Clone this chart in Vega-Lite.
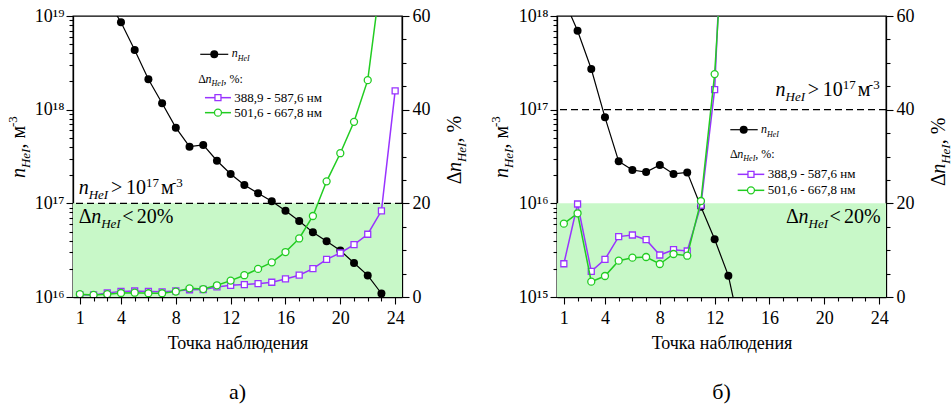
{
  "$schema": "https://vega.github.io/schema/vega-lite/v6.json",
  "padding": {"left": 6, "top": 6, "right": 0, "bottom": 0},
  "spacing": 155,
  "bounds": "flush",
  "datasets": {
    "pa": [
      {"x": 1, "n": null, "p388": 0.5, "p501": 0.6},
      {"x": 2, "n": null, "p388": 0.45, "p501": 0.45},
      {"x": 3, "n": 1.5e19, "p388": 0.85, "p501": 0.6},
      {"x": 4, "n": 8.57e18, "p388": 1.2, "p501": 0.85},
      {"x": 5, "n": 4.34e18, "p388": 1.28, "p501": 0.92},
      {"x": 6, "n": 2.11e18, "p388": 1.2, "p501": 0.8},
      {"x": 7, "n": 1.17e18, "p388": 1.1, "p501": 0.8},
      {"x": 8, "n": 6.43e17, "p388": 1.28, "p501": 1.15},
      {"x": 9, "n": 4.03e17, "p388": 1.55, "p501": 1.85},
      {"x": 10, "n": 4.2e17, "p388": 1.6, "p501": 1.7},
      {"x": 11, "n": 2.85e17, "p388": 2.15, "p501": 2.5},
      {"x": 12, "n": 2.06e17, "p388": 2.5, "p501": 3.5},
      {"x": 13, "n": 1.57e17, "p388": 2.65, "p501": 4.65},
      {"x": 14, "n": 1.28e17, "p388": 2.85, "p501": 6.0},
      {"x": 15, "n": 1.05e17, "p388": 3.15, "p501": 7.4},
      {"x": 16, "n": 8.34e16, "p388": 3.85, "p501": 9.6},
      {"x": 17, "n": 6.47e16, "p388": 4.65, "p501": 12.5},
      {"x": 18, "n": 4.9e16, "p388": 6.05, "p501": 17.3},
      {"x": 19, "n": 3.93e16, "p388": 8.05, "p501": 24.7},
      {"x": 20, "n": 3.13e16, "p388": 9.4, "p501": 30.7},
      {"x": 21, "n": 2.31e16, "p388": 11.2, "p501": 37.4},
      {"x": 22, "n": 1.7e16, "p388": 13.4, "p501": 46.3},
      {"x": 23, "n": 1.09e16, "p388": 18.4, "p501": 69},
      {"x": 24, "n": null, "p388": 44.0, "p501": null}
    ],
    "pb": [
      {"x": 1, "n": 1.5e18, "p388": 7.1, "p501": 15.66},
      {"x": 2, "n": 6.97e17, "p388": 19.86, "p501": 17.87},
      {"x": 3, "n": 2.72e17, "p388": 5.48, "p501": 3.27},
      {"x": 4, "n": 8.28e16, "p388": 8.04, "p501": 4.48},
      {"x": 5, "n": 2.81e16, "p388": 12.9, "p501": 7.76},
      {"x": 6, "n": 2.27e16, "p388": 13.24, "p501": 8.4},
      {"x": 7, "n": 2.16e16, "p388": 12.24, "p501": 8.54},
      {"x": 8, "n": 2.57e16, "p388": 8.97, "p501": 7.05},
      {"x": 9, "n": 2.06e16, "p388": 10.1, "p501": 9.18},
      {"x": 10, "n": 2.14e16, "p388": 9.82, "p501": 8.82},
      {"x": 11, "n": 9.2e15, "p388": 19.6, "p501": 20.5},
      {"x": 12, "n": 4.13e15, "p388": 44.3, "p501": 47.6},
      {"x": 13, "n": 1.69e15, "p388": 110, "p501": 95},
      {"x": 14, "n": 3.6e14, "p388": null, "p501": null}
    ]
  },
  "hconcat": [
    {
      "width": 329,
      "height": 281,
      "title": {"text": "а)", "orient": "bottom", "offset": 30},
      "resolve": {"scale": {"y": "independent"}},
      "layer": [
        {
          "data": {"values": [{}]},
          "mark": {"type": "rect", "color": "#c8f8c8"},
          "encoding": {
            "x": {"datum": 0.5},
            "x2": {"datum": 24.5},
            "y": {"datum": 0, "axis": null, "scale": {"domain": [0, 60], "nice": false}},
            "y2": {"datum": 20}
          }
        },
        {
          "layer": [
            {"data": {"values": [{}]}, "mark": {"type": "rule", "color": "black", "strokeWidth": 1.3, "strokeDash": [7, 4]},
             "encoding": {"y": {"datum": 1e17, "scale": {"type": "log"}}}},
            {"data": {"name": "pa"}, "mark": {"type": "line", "color": "black", "strokeWidth": 1.2, "clip": true},
             "encoding": {
               "x": {"field": "x", "type": "quantitative", "scale": {"domain": [0.5, 24.5], "nice": false, "zero": false},
                     "axis": {"title": "Точка наблюдения", "values": [1,2,3,4,5,6,7,8,9,10,11,12,13,14,15,16,17,18,19,20,21,22,23,24],
                              "tickCount": 100, "format": "d",
                              "labelExpr": "(datum.value == 1 || datum.value % 4 == 0) ? datum.label : ''",
                              "tickSize": {"condition": {"test": "datum.value == 1 || datum.value % 4 == 0", "value": 7}, "value": 4},
                              "labelPadding": 5, "titlePadding": 7}},
               "y": {"field": "n", "type": "quantitative", "scale": {"type": "log", "domain": [1e16, 1e19], "nice": false},
                     "axis": {"orient": "left", "title": null, "tickCount": 100,
                              "values": [1e16,2e16,3e16,4e16,5e16,6e16,7e16,8e16,9e16,1e17,2e17,3e17,4e17,5e17,6e17,7e17,8e17,9e17,1e18,2e18,3e18,4e18,5e18,6e18,7e18,8e18,9e18,1e19],
                              "labelExpr": "datum.value == 1e16 ? '10¹⁶' : datum.value == 1e17 ? '10¹⁷' : datum.value == 1e18 ? '10¹⁸' : datum.value == 1e19 ? '10¹⁹' : ''",
                              "tickSize": {"condition": {"test": "indexof([1e16,1e17,1e18,1e19], datum.value) >= 0", "value": 7}, "value": 4},
                              "labelPadding": 2}}
             }},
            {"data": {"name": "pa"}, "mark": {"type": "point", "shape": "circle", "filled": true, "color": "black", "opacity": 1, "size": 64, "clip": true},
             "encoding": {"x": {"field": "x", "type": "quantitative"}, "y": {"field": "n", "type": "quantitative"}}},

            {"data": {"values": [{}]}, "mark": {"type": "text", "style": "bigi", "text": "n", "dx": 0},
             "encoding": {"x": {"datum": 0.912}, "y": {"datum": 1.247e17, "scale": {"type": "log"}}}},
            {"data": {"values": [{}]}, "mark": {"type": "text", "style": "sub", "text": "HeI", "dx": 10, "dy": 5},
             "encoding": {"x": {"datum": 0.912}, "y": {"datum": 1.247e17, "scale": {"type": "log"}}}},
            {"data": {"values": [{}]}, "mark": {"type": "text", "style": "big", "text": ">", "dx": 32.3},
             "encoding": {"x": {"datum": 0.912}, "y": {"datum": 1.247e17, "scale": {"type": "log"}}}},
            {"data": {"values": [{}]}, "mark": {"type": "text", "style": "big", "text": "10", "dx": 47.3},
             "encoding": {"x": {"datum": 0.912}, "y": {"datum": 1.247e17, "scale": {"type": "log"}}}},
            {"data": {"values": [{}]}, "mark": {"type": "text", "style": "sup", "text": "17", "dx": 67.3, "dy": -7},
             "encoding": {"x": {"datum": 0.912}, "y": {"datum": 1.247e17, "scale": {"type": "log"}}}},
            {"data": {"values": [{}]}, "mark": {"type": "text", "style": "big", "text": "м", "dx": 82.3},
             "encoding": {"x": {"datum": 0.912}, "y": {"datum": 1.247e17, "scale": {"type": "log"}}}},
            {"data": {"values": [{}]}, "mark": {"type": "text", "style": "sup", "text": "-3", "dx": 93.3, "dy": -7},
             "encoding": {"x": {"datum": 0.912}, "y": {"datum": 1.247e17, "scale": {"type": "log"}}}},

            {"data": {"values": [{}]}, "mark": {"type": "text", "style": "big", "text": "Δ", "dx": 0},
             "encoding": {"x": {"datum": 0.912}, "y": {"datum": 6.21e16, "scale": {"type": "log"}}}},
            {"data": {"values": [{}]}, "mark": {"type": "text", "style": "bigi", "text": "n", "dx": 12.5},
             "encoding": {"x": {"datum": 0.912}, "y": {"datum": 6.21e16, "scale": {"type": "log"}}}},
            {"data": {"values": [{}]}, "mark": {"type": "text", "style": "sub", "text": "HeI", "dx": 22.5, "dy": 5},
             "encoding": {"x": {"datum": 0.912}, "y": {"datum": 6.21e16, "scale": {"type": "log"}}}},
            {"data": {"values": [{}]}, "mark": {"type": "text", "style": "big", "text": "<", "dx": 43.5},
             "encoding": {"x": {"datum": 0.912}, "y": {"datum": 6.21e16, "scale": {"type": "log"}}}},
            {"data": {"values": [{}]}, "mark": {"type": "text", "style": "big", "text": "20%", "dx": 58},
             "encoding": {"x": {"datum": 0.912}, "y": {"datum": 6.21e16, "scale": {"type": "log"}}}},

            {"data": {"values": [{}]}, "mark": {"type": "rule", "color": "black", "strokeWidth": 1.2},
             "encoding": {"x": {"datum": 9.783}, "x2": {"datum": 11.826}, "y": {"datum": 3.9e18, "scale": {"type": "log"}}}},
            {"data": {"values": [{}]}, "mark": {"type": "point", "shape": "circle", "filled": true, "color": "black", "opacity": 1, "size": 64},
             "encoding": {"x": {"datum": 10.805}, "y": {"datum": 3.9e18, "scale": {"type": "log"}}}},
            {"data": {"values": [{}]}, "mark": {"type": "text", "style": "lgi", "text": "n", "dx": 0},
             "encoding": {"x": {"datum": 12.074}, "y": {"datum": 3.61e18, "scale": {"type": "log"}}}},
            {"data": {"values": [{}]}, "mark": {"type": "text", "style": "lgsub", "text": "HeI", "dx": 6, "dy": 4},
             "encoding": {"x": {"datum": 12.074}, "y": {"datum": 3.61e18, "scale": {"type": "log"}}}},

            {"data": {"values": [{}]}, "mark": {"type": "text", "style": "lg", "text": "Δ", "dx": 0},
             "encoding": {"x": {"datum": 9.637}, "y": {"datum": 1.94e18, "scale": {"type": "log"}}}},
            {"data": {"values": [{}]}, "mark": {"type": "text", "style": "lgi", "text": "n", "dx": 7.3},
             "encoding": {"x": {"datum": 9.637}, "y": {"datum": 1.94e18, "scale": {"type": "log"}}}},
            {"data": {"values": [{}]}, "mark": {"type": "text", "style": "lgsub", "text": "HeI", "dx": 13.3, "dy": 3},
             "encoding": {"x": {"datum": 9.637}, "y": {"datum": 1.94e18, "scale": {"type": "log"}}}},
            {"data": {"values": [{}]}, "mark": {"type": "text", "style": "lg", "text": ", %:", "dx": 25.3},
             "encoding": {"x": {"datum": 9.637}, "y": {"datum": 1.94e18, "scale": {"type": "log"}}}},

            {"data": {"values": [{}]}, "mark": {"type": "rule", "color": "#9933ff", "strokeWidth": 1.5},
             "encoding": {"x": {"datum": 10.126}, "x2": {"datum": 12.023}, "y": {"datum": 1.343e18, "scale": {"type": "log"}}}},
            {"data": {"values": [{}]}, "mark": {"type": "point", "shape": "square", "filled": true, "fill": "white", "stroke": "#9933ff", "strokeWidth": 1.3, "opacity": 1, "size": 36},
             "encoding": {"x": {"datum": 11.075}, "y": {"datum": 1.343e18, "scale": {"type": "log"}}}},
            {"data": {"values": [{}]}, "mark": {"type": "text", "style": "entry", "baseline": "middle", "text": "388,9 - 587,6 нм"},
             "encoding": {"x": {"datum": 12.264}, "y": {"datum": 1.343e18, "scale": {"type": "log"}}}},

            {"data": {"values": [{}]}, "mark": {"type": "rule", "color": "#22cc22", "strokeWidth": 1.5},
             "encoding": {"x": {"datum": 10.126}, "x2": {"datum": 12.023}, "y": {"datum": 9.29e17, "scale": {"type": "log"}}}},
            {"data": {"values": [{}]}, "mark": {"type": "point", "shape": "circle", "filled": true, "fill": "white", "stroke": "#22cc22", "strokeWidth": 1.3, "opacity": 1, "size": 49},
             "encoding": {"x": {"datum": 11.075}, "y": {"datum": 9.29e17, "scale": {"type": "log"}}}},
            {"data": {"values": [{}]}, "mark": {"type": "text", "style": "entry", "baseline": "middle", "text": "501,6 - 667,8 нм"},
             "encoding": {"x": {"datum": 12.264}, "y": {"datum": 9.29e17, "scale": {"type": "log"}}}},

            {"data": {"values": [{}]}, "mark": {"type": "text", "style": "bigi", "text": "n", "angle": 270, "dx": 0},
             "encoding": {"x": {"datum": -2.97}, "y": {"datum": 1.862e17, "scale": {"type": "log"}}}},
            {"data": {"values": [{}]}, "mark": {"type": "text", "style": "sub", "text": "HeI", "angle": 270, "dx": 10, "dy": 5},
             "encoding": {"x": {"datum": -2.97}, "y": {"datum": 1.862e17, "scale": {"type": "log"}}}},
            {"data": {"values": [{}]}, "mark": {"type": "text", "style": "big", "text": ", м", "angle": 270, "dx": 29.5},
             "encoding": {"x": {"datum": -2.97}, "y": {"datum": 1.862e17, "scale": {"type": "log"}}}},
            {"data": {"values": [{}]}, "mark": {"type": "text", "style": "sup", "text": "-3", "angle": 270, "dx": 51, "dy": -8},
             "encoding": {"x": {"datum": -2.97}, "y": {"datum": 1.862e17, "scale": {"type": "log"}}}},

            {"data": {"values": [{}]}, "mark": {"type": "text", "style": "big", "text": "Δ", "angle": 270, "dx": 0},
             "encoding": {"x": {"datum": 28.8}, "y": {"datum": 1.596e17, "scale": {"type": "log"}}}},
            {"data": {"values": [{}]}, "mark": {"type": "text", "style": "bigi", "text": "n", "angle": 270, "dx": 12.2},
             "encoding": {"x": {"datum": 28.8}, "y": {"datum": 1.596e17, "scale": {"type": "log"}}}},
            {"data": {"values": [{}]}, "mark": {"type": "text", "style": "sub", "text": "HeI", "angle": 270, "dx": 22.2, "dy": 5},
             "encoding": {"x": {"datum": 28.8}, "y": {"datum": 1.596e17, "scale": {"type": "log"}}}},
            {"data": {"values": [{}]}, "mark": {"type": "text", "style": "big", "text": ", %", "angle": 270, "dx": 41.7},
             "encoding": {"x": {"datum": 28.8}, "y": {"datum": 1.596e17, "scale": {"type": "log"}}}}
          ]
        },
        {
          "data": {"name": "pa"},
          "layer": [
            {"mark": {"type": "line", "color": "#9933ff", "strokeWidth": 1.5, "clip": true},
             "encoding": {"x": {"field": "x", "type": "quantitative"},
                          "y": {"field": "p388", "type": "quantitative", "scale": {"domain": [0, 60], "nice": false},
                                "axis": {"orient": "right", "title": null, "values": [0,5,10,15,20,25,30,35,40,45,50,55,60], "tickCount": 100, "format": "d",
                                         "labelExpr": "datum.value % 20 == 0 ? datum.label : ''",
                                         "tickSize": {"condition": {"test": "datum.value % 20 == 0", "value": 7}, "value": 4},
                                         "labelPadding": 3}}}},
            {"mark": {"type": "point", "shape": "square", "filled": true, "fill": "white", "stroke": "#9933ff", "strokeWidth": 1.3, "opacity": 1, "size": 36, "clip": true},
             "encoding": {"x": {"field": "x", "type": "quantitative"}, "y": {"field": "p388", "type": "quantitative"}}},
            {"mark": {"type": "line", "color": "#22cc22", "strokeWidth": 1.5, "clip": true},
             "encoding": {"x": {"field": "x", "type": "quantitative"}, "y": {"field": "p501", "type": "quantitative"}}},
            {"mark": {"type": "point", "shape": "circle", "filled": true, "fill": "white", "stroke": "#22cc22", "strokeWidth": 1.3, "opacity": 1, "size": 49, "clip": true},
             "encoding": {"x": {"field": "x", "type": "quantitative"}, "y": {"field": "p501", "type": "quantitative"}}}
          ]
        }
      ]
    },
    {
      "width": 329,
      "height": 281,
      "title": {"text": "б)", "orient": "bottom", "offset": 30},
      "resolve": {"scale": {"y": "independent"}},
      "layer": [
        {
          "data": {"values": [{}]},
          "mark": {"type": "rect", "color": "#c8f8c8"},
          "encoding": {
            "x": {"datum": 0.5},
            "x2": {"datum": 24.5},
            "y": {"datum": 0, "axis": null, "scale": {"domain": [0, 60], "nice": false}},
            "y2": {"datum": 20}
          }
        },
        {
          "layer": [
            {"data": {"values": [{}]}, "mark": {"type": "rule", "color": "black", "strokeWidth": 1.3, "strokeDash": [7, 4]},
             "encoding": {"y": {"datum": 1e17, "scale": {"type": "log"}}}},
            {"data": {"name": "pb"}, "mark": {"type": "line", "color": "black", "strokeWidth": 1.2, "clip": true},
             "encoding": {
               "x": {"field": "x", "type": "quantitative", "scale": {"domain": [0.5, 24.5], "nice": false, "zero": false},
                     "axis": {"title": "Точка наблюдения", "values": [1,2,3,4,5,6,7,8,9,10,11,12,13,14,15,16,17,18,19,20,21,22,23,24],
                              "tickCount": 100, "format": "d",
                              "labelExpr": "(datum.value == 1 || datum.value % 4 == 0) ? datum.label : ''",
                              "tickSize": {"condition": {"test": "datum.value == 1 || datum.value % 4 == 0", "value": 7}, "value": 4},
                              "labelPadding": 5, "titlePadding": 7}},
               "y": {"field": "n", "type": "quantitative", "scale": {"type": "log", "domain": [1e15, 1e18], "nice": false},
                     "axis": {"orient": "left", "title": null, "tickCount": 100,
                              "values": [1e15,2e15,3e15,4e15,5e15,6e15,7e15,8e15,9e15,1e16,2e16,3e16,4e16,5e16,6e16,7e16,8e16,9e16,1e17,2e17,3e17,4e17,5e17,6e17,7e17,8e17,9e17,1e18],
                              "labelExpr": "datum.value == 1e15 ? '10¹⁵' : datum.value == 1e16 ? '10¹⁶' : datum.value == 1e17 ? '10¹⁷' : datum.value == 1e18 ? '10¹⁸' : ''",
                              "tickSize": {"condition": {"test": "indexof([1e15,1e16,1e17,1e18], datum.value) >= 0", "value": 7}, "value": 4},
                              "labelPadding": 2}}
             }},
            {"data": {"name": "pb"}, "mark": {"type": "point", "shape": "circle", "filled": true, "color": "black", "opacity": 1, "size": 64, "clip": true},
             "encoding": {"x": {"field": "x", "type": "quantitative"}, "y": {"field": "n", "type": "quantitative"}}},

            {"data": {"values": [{}]}, "mark": {"type": "text", "style": "bigi", "text": "n", "dx": 0},
             "encoding": {"x": {"datum": 16.44}, "y": {"datum": 1.384e17, "scale": {"type": "log"}}}},
            {"data": {"values": [{}]}, "mark": {"type": "text", "style": "sub", "text": "HeI", "dx": 10, "dy": 5},
             "encoding": {"x": {"datum": 16.44}, "y": {"datum": 1.384e17, "scale": {"type": "log"}}}},
            {"data": {"values": [{}]}, "mark": {"type": "text", "style": "big", "text": ">", "dx": 32.3},
             "encoding": {"x": {"datum": 16.44}, "y": {"datum": 1.384e17, "scale": {"type": "log"}}}},
            {"data": {"values": [{}]}, "mark": {"type": "text", "style": "big", "text": "10", "dx": 47.3},
             "encoding": {"x": {"datum": 16.44}, "y": {"datum": 1.384e17, "scale": {"type": "log"}}}},
            {"data": {"values": [{}]}, "mark": {"type": "text", "style": "sup", "text": "17", "dx": 67.3, "dy": -7},
             "encoding": {"x": {"datum": 16.44}, "y": {"datum": 1.384e17, "scale": {"type": "log"}}}},
            {"data": {"values": [{}]}, "mark": {"type": "text", "style": "big", "text": "м", "dx": 82.3},
             "encoding": {"x": {"datum": 16.44}, "y": {"datum": 1.384e17, "scale": {"type": "log"}}}},
            {"data": {"values": [{}]}, "mark": {"type": "text", "style": "sup", "text": "-3", "dx": 93.3, "dy": -7},
             "encoding": {"x": {"datum": 16.44}, "y": {"datum": 1.384e17, "scale": {"type": "log"}}}},

            {"data": {"values": [{}]}, "mark": {"type": "text", "style": "big", "text": "Δ", "dx": 0},
             "encoding": {"x": {"datum": 17.206}, "y": {"datum": 6.21e15, "scale": {"type": "log"}}}},
            {"data": {"values": [{}]}, "mark": {"type": "text", "style": "bigi", "text": "n", "dx": 12.5},
             "encoding": {"x": {"datum": 17.206}, "y": {"datum": 6.21e15, "scale": {"type": "log"}}}},
            {"data": {"values": [{}]}, "mark": {"type": "text", "style": "sub", "text": "HeI", "dx": 22.5, "dy": 5},
             "encoding": {"x": {"datum": 17.206}, "y": {"datum": 6.21e15, "scale": {"type": "log"}}}},
            {"data": {"values": [{}]}, "mark": {"type": "text", "style": "big", "text": "<", "dx": 43.5},
             "encoding": {"x": {"datum": 17.206}, "y": {"datum": 6.21e15, "scale": {"type": "log"}}}},
            {"data": {"values": [{}]}, "mark": {"type": "text", "style": "big", "text": "20%", "dx": 58},
             "encoding": {"x": {"datum": 17.206}, "y": {"datum": 6.21e15, "scale": {"type": "log"}}}},

            {"data": {"values": [{}]}, "mark": {"type": "rule", "color": "black", "strokeWidth": 1.2},
             "encoding": {"x": {"datum": 13.142}, "x2": {"datum": 15.141}, "y": {"datum": 6.11e16, "scale": {"type": "log"}}}},
            {"data": {"values": [{}]}, "mark": {"type": "point", "shape": "circle", "filled": true, "color": "black", "opacity": 1, "size": 64},
             "encoding": {"x": {"datum": 14.12}, "y": {"datum": 6.11e16, "scale": {"type": "log"}}}},
            {"data": {"values": [{}]}, "mark": {"type": "text", "style": "lgi", "text": "n", "dx": 0},
             "encoding": {"x": {"datum": 15.382}, "y": {"datum": 5.65e16, "scale": {"type": "log"}}}},
            {"data": {"values": [{}]}, "mark": {"type": "text", "style": "lgsub", "text": "HeI", "dx": 6, "dy": 4},
             "encoding": {"x": {"datum": 15.382}, "y": {"datum": 5.65e16, "scale": {"type": "log"}}}},

            {"data": {"values": [{}]}, "mark": {"type": "text", "style": "lg", "text": "Δ", "dx": 0},
             "encoding": {"x": {"datum": 13.12}, "y": {"datum": 3.04e16, "scale": {"type": "log"}}}},
            {"data": {"values": [{}]}, "mark": {"type": "text", "style": "lgi", "text": "n", "dx": 7.3},
             "encoding": {"x": {"datum": 13.12}, "y": {"datum": 3.04e16, "scale": {"type": "log"}}}},
            {"data": {"values": [{}]}, "mark": {"type": "text", "style": "lgsub", "text": "HeI", "dx": 13.3, "dy": 3},
             "encoding": {"x": {"datum": 13.12}, "y": {"datum": 3.04e16, "scale": {"type": "log"}}}},
            {"data": {"values": [{}]}, "mark": {"type": "text", "style": "lg", "text": ", %:", "dx": 25.3},
             "encoding": {"x": {"datum": 13.12}, "y": {"datum": 3.04e16, "scale": {"type": "log"}}}},

            {"data": {"values": [{}]}, "mark": {"type": "rule", "color": "#9933ff", "strokeWidth": 1.5},
             "encoding": {"x": {"datum": 13.68}, "x2": {"datum": 15.62}, "y": {"datum": 2.04e16, "scale": {"type": "log"}}}},
            {"data": {"values": [{}]}, "mark": {"type": "point", "shape": "square", "filled": true, "fill": "white", "stroke": "#9933ff", "strokeWidth": 1.3, "opacity": 1, "size": 36},
             "encoding": {"x": {"datum": 14.65}, "y": {"datum": 2.04e16, "scale": {"type": "log"}}}},
            {"data": {"values": [{}]}, "mark": {"type": "text", "style": "entry", "baseline": "middle", "text": "388,9 - 587,6 нм"},
             "encoding": {"x": {"datum": 15.87}, "y": {"datum": 2.04e16, "scale": {"type": "log"}}}},

            {"data": {"values": [{}]}, "mark": {"type": "rule", "color": "#22cc22", "strokeWidth": 1.5},
             "encoding": {"x": {"datum": 13.68}, "x2": {"datum": 15.62}, "y": {"datum": 1.377e16, "scale": {"type": "log"}}}},
            {"data": {"values": [{}]}, "mark": {"type": "point", "shape": "circle", "filled": true, "fill": "white", "stroke": "#22cc22", "strokeWidth": 1.3, "opacity": 1, "size": 49},
             "encoding": {"x": {"datum": 14.65}, "y": {"datum": 1.377e16, "scale": {"type": "log"}}}},
            {"data": {"values": [{}]}, "mark": {"type": "text", "style": "entry", "baseline": "middle", "text": "501,6 - 667,8 нм"},
             "encoding": {"x": {"datum": 15.87}, "y": {"datum": 1.377e16, "scale": {"type": "log"}}}},

            {"data": {"values": [{}]}, "mark": {"type": "text", "style": "bigi", "text": "n", "angle": 270, "dx": 0},
             "encoding": {"x": {"datum": -3.04}, "y": {"datum": 1.862e16, "scale": {"type": "log"}}}},
            {"data": {"values": [{}]}, "mark": {"type": "text", "style": "sub", "text": "HeI", "angle": 270, "dx": 10, "dy": 5},
             "encoding": {"x": {"datum": -3.04}, "y": {"datum": 1.862e16, "scale": {"type": "log"}}}},
            {"data": {"values": [{}]}, "mark": {"type": "text", "style": "big", "text": ", м", "angle": 270, "dx": 29.5},
             "encoding": {"x": {"datum": -3.04}, "y": {"datum": 1.862e16, "scale": {"type": "log"}}}},
            {"data": {"values": [{}]}, "mark": {"type": "text", "style": "sup", "text": "-3", "angle": 270, "dx": 51, "dy": -8},
             "encoding": {"x": {"datum": -3.04}, "y": {"datum": 1.862e16, "scale": {"type": "log"}}}},

            {"data": {"values": [{}]}, "mark": {"type": "text", "style": "big", "text": "Δ", "angle": 270, "dx": 0},
             "encoding": {"x": {"datum": 28.78}, "y": {"datum": 1.531e16, "scale": {"type": "log"}}}},
            {"data": {"values": [{}]}, "mark": {"type": "text", "style": "bigi", "text": "n", "angle": 270, "dx": 12.2},
             "encoding": {"x": {"datum": 28.78}, "y": {"datum": 1.531e16, "scale": {"type": "log"}}}},
            {"data": {"values": [{}]}, "mark": {"type": "text", "style": "sub", "text": "HeI", "angle": 270, "dx": 22.2, "dy": 5},
             "encoding": {"x": {"datum": 28.78}, "y": {"datum": 1.531e16, "scale": {"type": "log"}}}},
            {"data": {"values": [{}]}, "mark": {"type": "text", "style": "big", "text": ", %", "angle": 270, "dx": 41.7},
             "encoding": {"x": {"datum": 28.78}, "y": {"datum": 1.531e16, "scale": {"type": "log"}}}}
          ]
        },
        {
          "data": {"name": "pb"},
          "layer": [
            {"mark": {"type": "line", "color": "#9933ff", "strokeWidth": 1.5, "clip": true},
             "encoding": {"x": {"field": "x", "type": "quantitative"},
                          "y": {"field": "p388", "type": "quantitative", "scale": {"domain": [0, 60], "nice": false},
                                "axis": {"orient": "right", "title": null, "values": [0,5,10,15,20,25,30,35,40,45,50,55,60], "tickCount": 100, "format": "d",
                                         "labelExpr": "datum.value % 20 == 0 ? datum.label : ''",
                                         "tickSize": {"condition": {"test": "datum.value % 20 == 0", "value": 7}, "value": 4},
                                         "labelPadding": 3}}}},
            {"mark": {"type": "point", "shape": "square", "filled": true, "fill": "white", "stroke": "#9933ff", "strokeWidth": 1.3, "opacity": 1, "size": 36, "clip": true},
             "encoding": {"x": {"field": "x", "type": "quantitative"}, "y": {"field": "p388", "type": "quantitative"}}},
            {"mark": {"type": "line", "color": "#22cc22", "strokeWidth": 1.5, "clip": true},
             "encoding": {"x": {"field": "x", "type": "quantitative"}, "y": {"field": "p501", "type": "quantitative"}}},
            {"mark": {"type": "point", "shape": "circle", "filled": true, "fill": "white", "stroke": "#22cc22", "strokeWidth": 1.3, "opacity": 1, "size": 49, "clip": true},
             "encoding": {"x": {"field": "x", "type": "quantitative"}, "y": {"field": "p501", "type": "quantitative"}}}
          ]
        }
      ]
    }
  ],
  "config": {
    "font": "Liberation Serif",
    "view": {"stroke": "black", "strokeWidth": 1.3},
    "axis": {"domainColor": "black", "domainWidth": 1.3, "tickColor": "black", "tickWidth": 1.1,
             "labelColor": "black", "labelFont": "Liberation Serif", "labelFontSize": 18,
             "labelOverlap": false, "labelFlush": false, "labelBound": false,
             "titleFont": "Liberation Serif", "titleFontSize": 18, "titleFontWeight": "normal", "titleColor": "black", "grid": false},
    "title": {"font": "Liberation Serif", "fontSize": 22, "fontWeight": "normal", "color": "black"},
    "text": {"font": "Liberation Serif", "align": "left", "baseline": "alphabetic", "color": "black"},
    "style": {
      "big": {"fontSize": 20},
      "bigi": {"fontSize": 20, "fontStyle": "italic"},
      "sub": {"fontSize": 13, "fontStyle": "italic"},
      "sup": {"fontSize": 13},
      "lg": {"fontSize": 12},
      "lgi": {"fontSize": 12, "fontStyle": "italic"},
      "lgsub": {"fontSize": 8, "fontStyle": "italic"},
      "entry": {"fontSize": 13}
    }
  }
}
